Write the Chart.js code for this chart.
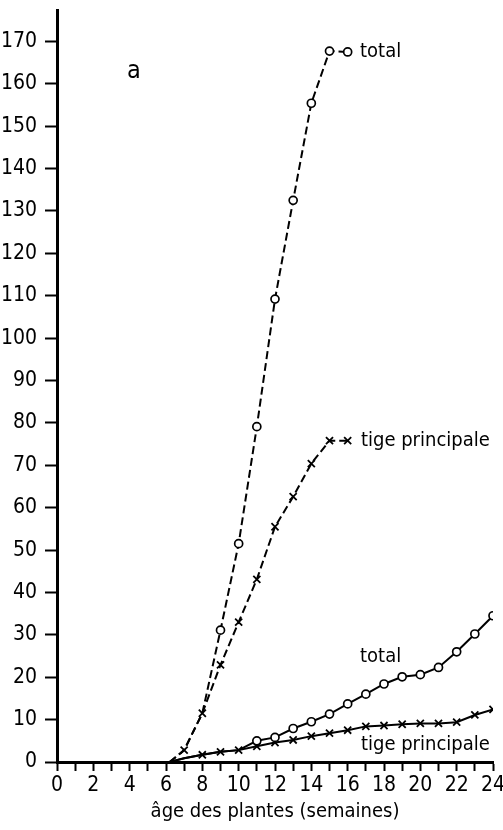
<!DOCTYPE html>
<html>
<head>
<meta charset="utf-8">
<script src="https://cdn.jsdelivr.net/npm/chart.js@4.4.1/dist/chart.umd.min.js"></script>
<style>
  html, body { margin: 0; padding: 0; background: #fff; }
  #wrap { width: 503px; height: 830px; }
</style>
</head>
<body>
<div id="wrap"><canvas id="growthChart" width="503" height="830"></canvas></div>
<script>
// weeks (early, dashed curves)
const weeksEarly = [6.2, 7, 8, 9, 10, 11, 12, 13, 14, 15, 16];
const totalEarly = [0, 2.8, 11.5, 31.1, 51.5, 79.1, 109.2, 132.5, 155.4, 167.7, 167.5];
const mainEarly = [0, 2.8, 11.5, 22.9, 33.0, 43.1, 55.5, 62.6, 70.4, 75.8, 75.8];

// weeks (late, solid curves)
const weeksLate = [6.2, 7, 8, 9, 10, 11, 12, 13, 14, 15, 16, 17, 18, 19, 20, 21, 22, 23, 24];
const totalLate = [0, 0.9, 1.7, 2.4, 2.8, 5.0, 5.8, 7.9, 9.5, 11.3, 13.7, 16.0, 18.4, 20.1, 20.6, 22.3, 26.0, 30.2, 34.5];
const mainLate = [0, 0.9, 1.7, 2.4, 2.8, 3.7, 4.6, 5.2, 6.1, 6.8, 7.5, 8.4, 8.6, 8.9, 9.1, 9.1, 9.4, 11.1, 12.4];

// first week that carries a marker on each curve
const totalEarlyFrom = 9;
const mainEarlyFrom = 7;
const totalLateFrom = 11;
const mainLateFrom = 8;

// curve labels: text, week, value
const curveLabels = [
  ['total', 16.68, 167.5],
  ['tige principale', 16.73, 75.8],
  ['total', 16.68, 24.8],
  ['tige principale', 16.73, 4.0]
];
const panelLetter = ['a', 3.85, 162.8];

const FONT = '"DejaVu Sans Condensed", "Liberation Sans", sans-serif';

const toPoints = (xs, ys) => xs.map((x, i) => ({ x: x, y: ys[i] }));
const radii = (xs, from, r) => xs.map(x => (x >= from ? r : 0));

function series(xs, ys, from, style, dashed) {
  return {
    data: toPoints(xs, ys),
    borderColor: '#000',
    borderWidth: 2,
    borderDash: dashed ? [8, 4] : [],
    backgroundColor: '#fff',
    pointStyle: style,
    pointRadius: radii(xs, from, style === 'circle' ? 4 : 5),
    pointBorderWidth: style === 'circle' ? 1.7 : 1.8,
    pointBorderColor: '#000',
    pointBackgroundColor: '#fff',
    tension: 0,
    fill: false
  };
}

const labelPlugin = {
  id: 'curveLabels',
  afterDatasetsDraw(chart) {
    const ctx = chart.ctx;
    const xs = chart.scales.x, ys = chart.scales.y;
    ctx.save();
    ctx.fillStyle = '#000';
    ctx.textAlign = 'left';
    ctx.textBaseline = 'middle';
    ctx.font = '20px ' + FONT;
    curveLabels.forEach(([t, wx, wy]) => {
      ctx.fillText(t, xs.getPixelForValue(wx), ys.getPixelForValue(wy));
    });
    ctx.font = '25px ' + FONT;
    ctx.fillText(panelLetter[0], xs.getPixelForValue(panelLetter[1]), ys.getPixelForValue(panelLetter[2]));
    ctx.restore();
  }
};

new Chart(document.getElementById('growthChart'), {
  type: 'line',
  data: {
    datasets: [
      series(weeksEarly, totalEarly, totalEarlyFrom, 'circle', true),
      series(weeksEarly, mainEarly, mainEarlyFrom, 'crossRot', true),
      series(weeksLate, totalLate, totalLateFrom, 'circle', false),
      series(weeksLate, mainLate, mainLateFrom, 'crossRot', false)
    ]
  },
  options: {
    responsive: false,
    animation: false,
    layout: { padding: { left: 0, right: 10, top: 10, bottom: 0 } },
    plugins: {
      legend: { display: false },
      tooltip: { enabled: false }
    },
    scales: {
      x: {
        type: 'linear',
        min: 0,
        max: 24,
        afterFit: scale => {
          // fixed band under the plot; let the last label run to the edge
          scale.height = 68;
          scale.paddingLeft = 0;
          scale.paddingRight = 0;
        },
        grid: {
          drawOnChartArea: false,
          drawTicks: true,
          tickLength: 9,
          tickWidth: 2,
          tickColor: '#000'
        },
        border: { display: true, color: '#000', width: 3 },
        ticks: {
          stepSize: 1,
          autoSkip: false,
          maxRotation: 0,
          padding: 2,
          color: '#000',
          font: { family: FONT, size: 21 },
          callback: v => (v % 2 === 0 ? String(v) : '')
        },
        title: {
          display: true,
          text: 'âge des plantes (semaines)',
          color: '#000',
          font: { family: FONT, size: 20 },
          padding: { top: 2, bottom: 6 }
        }
      },
      y: {
        min: 0,
        max: 177.4,
        afterBuildTicks: scale => {
          scale.ticks = scale.ticks.filter(t => t.value % 10 === 0);
        },
        afterFit: scale => {
          scale.width = 57;
          scale.paddingTop = 0;
          scale.paddingBottom = 0;
        },
        grid: {
          drawOnChartArea: false,
          drawTicks: true,
          tickLength: 12,
          tickWidth: 2,
          tickColor: '#000'
        },
        border: { display: true, color: '#000', width: 3 },
        ticks: {
          stepSize: 10,
          padding: 8,
          color: '#000',
          font: { family: FONT, size: 21 }
        }
      }
    }
  },
  plugins: [labelPlugin]
});
</script>
</body>
</html>
